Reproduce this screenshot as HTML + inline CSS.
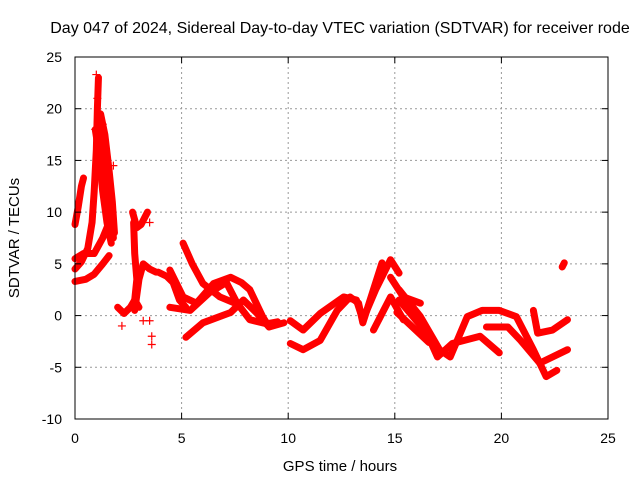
<!DOCTYPE html>
<html><head><meta charset="utf-8"><style>
body{margin:0;background:#fff;}
svg text{font-family:"Liberation Sans",sans-serif;font-size:14px;fill:#000;}
</style></head><body>
<svg id="chart" width="640" height="480" xmlns="http://www.w3.org/2000/svg">
<rect width="640" height="480" fill="#fff"/>
<g id="grid"></g>
<g id="series"></g>
<rect x="75" y="57" width="533" height="362" fill="none" stroke="#000" stroke-width="1"/>
<g id="ticks"></g>
<text x="340" y="33" text-anchor="middle" style="font-size:16px">Day 047 of 2024, Sidereal Day-to-day VTEC variation (SDTVAR) for receiver rode</text>
<text x="340" y="471" text-anchor="middle" style="font-size:15px">GPS time / hours</text>
<text transform="translate(19,238) rotate(-90)" text-anchor="middle" style="font-size:15px">SDTVAR / TECUs</text>
</svg>
<script>
const xTicks=[0,5,10,15,20,25];
const yTicks=[-10,-5,0,5,10,15,20,25];
const track1=[[0,8.8],[0.15,10.5],[0.3,12.5],[0.4,13.3]];
const track2=[[0,4.5],[0.3,5.2],[0.6,6.5],[0.8,9],[0.9,12],[1.0,16],[1.05,20],[1.1,23]];
const track3=[[0,3.3],[0.5,3.5],[0.9,4],[1.3,5],[1.6,5.8]];
const track4=[[0,5.5],[0.4,6],[0.9,6],[1.3,7.5],[1.6,9]];
const track5=[[1.1,19],[1.3,17],[1.5,13],[1.7,10],[1.8,7.5]];
const track5b=[[1.2,19.5],[1.4,17.5],[1.6,14],[1.75,11],[1.85,8]];
const track5c=[[0.95,18],[1.1,16],[1.3,12],[1.5,9],[1.7,7]];
const track6=[[2.0,0.8],[2.3,0.2],[2.6,0.8],[2.8,1.5],[3.0,0.8]];
const track7=[[2.7,10],[2.9,8.5],[3.1,8.8],[3.4,10]];
const track8=[[2.75,9],[2.8,6],[2.9,3.5],[2.8,1.5]];
const track9=[[2.8,0.5],[3.0,3.5],[3.2,5],[3.5,4.5],[3.8,4.2]];
const track10=[[3.9,4.2],[4.3,3.8],[4.6,3.2],[4.9,1.5],[5.2,0.8]];
const track11=[[5.07,7],[5.5,5],[6.0,3.1],[6.8,1.8],[7.5,1.2]];
const track12=[[4.45,4.4],[5.07,1.8],[5.7,1.2],[6.5,3.1],[7.3,3.7],[7.8,3.2],[8.2,2.5],[8.8,-0.1],[9.1,-1.1]];
const track13=[[4.45,0.8],[5.4,0.5],[6.3,2.2],[7.1,3.2],[7.6,1.2],[8.2,-0.4],[9.0,-0.8],[9.5,-0.6]];
const track14=[[5.2,-2.1],[6.0,-0.7],[7.3,0.3],[7.9,1.5],[8.5,0.3],[9.1,-1.1],[9.8,-0.7]];
const track15=[[10.1,-0.5],[10.7,-1.4],[11.5,0.2],[12.6,1.8],[13.2,1.5],[13.5,-0.4],[14.1,2.5],[14.8,5.4],[15.2,4.1]];
const track16=[[10.1,-2.7],[10.7,-3.3],[11.5,-2.4],[12.3,0.5],[12.9,1.8],[13.3,1.2],[13.5,-0.7],[14.4,5.1]];
const track17=[[14.8,3.7],[15.4,1.8],[16.2,1.2]];
const track18=[[14.0,-1.4],[14.8,1.8],[15.4,-0.4]];
const track19=[[15.1,0.3],[16.6,-2.6]];
const track20=[[15.2,2.5],[16.2,-0.1],[17.1,-3.3],[17.6,-4],[18.4,-0.1],[19.1,0.5],[19.9,0.5],[20.7,-0.1],[21.5,-3.3],[22.1,-5.9],[22.6,-5.3]];
const track21=[[15.2,1.5],[16.5,-1.7],[17.0,-4],[17.7,-2.7],[19.0,-2],[19.9,-3.6]];
const track22=[[19.3,-1.1],[20.3,-1.1],[20.9,-2.4],[21.8,-4.6],[23.1,-3.3]];
const track23=[[21.5,0.5],[21.7,-1.7],[22.4,-1.4],[23.1,-0.4]];
const track24=[[22.85,4.7],[22.95,5.1]];
const tracks=[track1,track2,track3,track4,track5,track5b,track5c,track6,track7,track8,track9,track10,track11,track12,track13,track14,track15,track16,track17,track18,track19,track20,track21,track22,track23,track24];
const scatter=[[1.0,23.3],[1.05,21],[0.95,18],[1.3,18.5],[1.4,16],[1.5,14],[1.6,12],[1.7,11],[1.8,14.5],[1.75,9],[3.6,-2],[3.6,-2.8],[3.5,-0.5],[3.2,-0.5],[2.2,-1],[3.5,9]];
const X=h=>75+h*533/25;
const Y=v=>57+(25-v)*362/35;
const NS="http://www.w3.org/2000/svg";
const grid=document.getElementById('grid'),ticks=document.getElementById('ticks'),ser=document.getElementById('series');
function mk(tag,attrs,parent){const e=document.createElementNS(NS,tag);for(const k in attrs)e.setAttribute(k,attrs[k]);parent.appendChild(e);return e;}
xTicks.forEach(t=>{
 const x=X(t);
 if(t>0&&t<25){const g=mk('line',{x1:x,x2:x,y1:57,y2:419,stroke:'#999','stroke-dasharray':'2,3'},grid);
 
 }
 const tl=mk('text',{x:x,y:443,'text-anchor':'middle'},ticks);tl.textContent=t;
 
 
 mk('line',{x1:x,x2:x,y1:419,y2:413,stroke:'#000'},ticks);
 mk('line',{x1:x,x2:x,y1:57,y2:63,stroke:'#000'},ticks);
});
yTicks.forEach(t=>{
 const y=Y(t);
 if(t>-10&&t<25){const g=mk('line',{x1:75,x2:608,y1:y,y2:y,stroke:'#999','stroke-dasharray':'2,3'},grid);
 
 }
 const tl=mk('text',{x:62,y:y+5,'text-anchor':'end'},ticks);tl.textContent=t;
 
 
 mk('line',{x1:75,x2:81,y1:y,y2:y,stroke:'#000'},ticks);
 mk('line',{x1:608,x2:602,y1:y,y2:y,stroke:'#000'},ticks);
});
tracks.forEach(tr=>{
 const p=mk('polyline',{points:tr.map(d=>X(d[0])+','+Y(d[1])).join(' '),fill:'none',stroke:'#f00','stroke-width':7,'stroke-linejoin':'round','stroke-linecap':'round'},ser);
 
 
});
scatter.forEach(d=>{
 const x=X(d[0]),y=Y(d[1]);
 const m=mk('path',{d:`M${x-4},${y}h8M${x},${y-4}v8`,stroke:'#f00','stroke-width':1.2},ser);
 
 
});
</script>
</body></html>
